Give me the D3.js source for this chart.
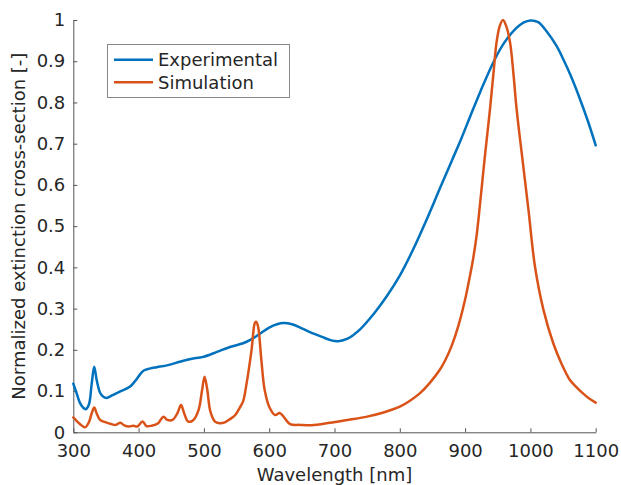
<!DOCTYPE html>
<html>
<head>
<meta charset="utf-8">
<script src="https://cdn.jsdelivr.net/npm/d3@7"></script>
<style>
  html, body { margin: 0; padding: 0; background: #fff; }
  svg { display: block; font-family: "DejaVu Sans", sans-serif; }
</style>
</head>
<body>
<svg id="chart" width="621" height="485"></svg>
<script>
// ---- data ----
const expWavelength = [300,305,310,315,319,324,328,332,336,341,346,351,360,372,387,395,402,408,418,428,445,463,480,499,520,540,560,571,585,600,612,622,635,650,665,680,695,706,720,740,760,780,800,820,840,861,880,892,907,923,945,960,975,990,1000,1012,1025,1040,1050,1062,1075,1088,1100];
const expValues = [0.118,0.095,0.072,0.060,0.056,0.068,0.115,0.159,0.125,0.096,0.086,0.083,0.090,0.099,0.111,0.125,0.140,0.150,0.155,0.158,0.163,0.171,0.178,0.183,0.195,0.207,0.216,0.224,0.238,0.254,0.262,0.265,0.262,0.252,0.241,0.232,0.223,0.221,0.227,0.251,0.287,0.330,0.380,0.442,0.512,0.590,0.660,0.704,0.763,0.825,0.903,0.945,0.975,0.994,0.999,0.995,0.972,0.937,0.906,0.864,0.812,0.755,0.696];

const simWavelength = [300,305,310,318,324,328,332,336,341,350,358,365,372,378,385,392,398,406,412,420,430,438,444,452,459,465,470,476,484,492,497,501,505,510,517,524,532,540,548,555,560,565,573,578,580,583,588,593,600,609,616,621,632,647,665,693,720,750,775,800,815,831,846,861,870,880,890,900,906,912,918,923,930,938,944,948,953,958,963,969,974,979,988,997,1007,1020,1035,1048,1060,1070,1080,1090,1100];
const simValues = [0.036,0.028,0.020,0.012,0.025,0.045,0.060,0.045,0.030,0.024,0.020,0.018,0.023,0.017,0.014,0.016,0.014,0.026,0.015,0.016,0.022,0.038,0.030,0.030,0.045,0.066,0.045,0.026,0.030,0.055,0.100,0.135,0.105,0.050,0.026,0.022,0.024,0.032,0.042,0.060,0.075,0.115,0.200,0.265,0.268,0.256,0.175,0.103,0.062,0.042,0.047,0.040,0.020,0.018,0.017,0.023,0.030,0.038,0.048,0.062,0.076,0.095,0.120,0.151,0.176,0.212,0.260,0.322,0.368,0.418,0.482,0.556,0.665,0.782,0.880,0.944,0.985,1.0,0.985,0.944,0.870,0.782,0.660,0.540,0.402,0.297,0.216,0.165,0.128,0.110,0.095,0.082,0.072];

const seriesNames = ["Experimental", "Simulation"];
const xTicks = [300,400,500,600,700,800,900,1000,1100];
const yTicks = [0,0.1,0.2,0.3,0.4,0.5,0.6,0.7,0.8,0.9,1];
const xLabel = "Wavelength [nm]";
const yLabel = "Normalized extinction cross-section [-]";

// ---- layout ----
const svg = d3.select("#chart");
const mLeft = 73.3, mRight = 595.7, mTop = 20, mBottom = 432.3;
const x = d3.scaleLinear().domain([300, 1100]).range([mLeft, mRight]);
const y = d3.scaleLinear().domain([0, 1]).range([mBottom, mTop]);
const colors = ["#0072BD", "#D95319"];
const textColor = "#262626";
const axisColor = "#555";

// axes
const xAxis = d3.axisBottom(x).tickValues(xTicks).tickSizeInner(-4).tickSizeOuter(0).tickPadding(11.5).tickFormat(d3.format("d"));
const yAxis = d3.axisLeft(y).tickValues(yTicks).tickSizeInner(-4).tickSizeOuter(0).tickPadding(8).tickFormat(d => d === 0 ? "0" : d === 1 ? "1" : d3.format(".1f")(d));

const gx = svg.append("g").attr("transform", `translate(0,${mBottom})`).call(xAxis);
const gy = svg.append("g").attr("transform", `translate(${mLeft},0)`).call(yAxis);
[gx, gy].forEach(g => {
  g.select(".domain").attr("stroke", axisColor).attr("stroke-width", 1);
  g.selectAll(".tick line").attr("stroke", axisColor).attr("stroke-width", 1);
  g.selectAll(".tick text").attr("fill", textColor).style("font-size", "18px").style("font-family", "DejaVu Sans, sans-serif");
});
gx.selectAll(".tick text").attr("dy", "0.71em");

// lines
const line = d3.line().x(d => x(d[0])).y(d => y(d[1])).curve(d3.curveCatmullRom.alpha(0.5));
const expData = expWavelength.map((w, i) => [w, expValues[i]]);
const simData = simWavelength.map((w, i) => [w, simValues[i]]);
[expData, simData].forEach((data, i) => {
  svg.append("path").datum(data).attr("d", line)
    .attr("fill", "none").attr("stroke", colors[i]).attr("stroke-width", 2.5)
    .attr("stroke-linejoin", "round").attr("stroke-linecap", "round");
});

// axis labels
svg.append("text").attr("x", (mLeft + mRight) / 2).attr("y", 481).attr("text-anchor", "middle")
  .attr("fill", textColor).style("font-size", "18px").text(xLabel);
svg.append("text").attr("transform", `translate(25,${(mTop + mBottom) / 2}) rotate(-90)`).attr("text-anchor", "middle")
  .attr("fill", textColor).style("font-size", "18px").text(yLabel);

// legend
const lg = svg.append("g");
lg.append("rect").attr("x", 107.5).attr("y", 44.5).attr("width", 182).attr("height", 53)
  .attr("fill", "#fff").attr("stroke", "#888").attr("stroke-width", 1);
seriesNames.forEach((name, i) => {
  const yy = 59.7 + i * 22.5;
  lg.append("line").attr("x1", 114).attr("x2", 153).attr("y1", yy).attr("y2", yy)
    .attr("stroke", colors[i]).attr("stroke-width", 2.5);
  lg.append("text").attr("x", 158).attr("y", yy + 6.5).attr("fill", textColor)
    .style("font-size", "18px").text(name);
});
</script>
</body>
</html>
